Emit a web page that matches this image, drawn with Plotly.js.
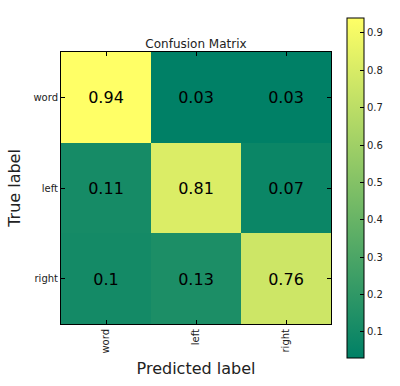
<!DOCTYPE html>
<html><head><meta charset="utf-8">
<script src="https://cdn.plot.ly/plotly-3.0.1.min.js"></script>
<style>body{margin:0;background:#fff}#chart{width:400px;height:386px}</style>
</head><body><div id="chart"></div>
<script>
const trueLabels = ["word", "left", "right"];
const predLabels = ["word", "left", "right"];
const rowWord  = [0.94, 0.03, 0.03];
const rowLeft  = [0.11, 0.81, 0.07];
const rowRight = [0.10, 0.13, 0.76];
const colorTicks = [0.1, 0.2, 0.3, 0.4, 0.5, 0.6, 0.7, 0.8, 0.9];

const summer = [[0, "rgb(0,128,102)"], [1, "rgb(255,255,102)"]];
const font = "DejaVu Sans, sans-serif";

const trace = {
  type: "heatmap",
  x: predLabels,
  y: trueLabels,
  z: [rowWord, rowLeft, rowRight],
  colorscale: summer,
  texttemplate: "%{z}",
  textfont: {family: font, size: 16, color: "#000"},
  hoverinfo: "none",
  colorbar: {
    x: 1.058, xanchor: "left", xpad: 0, ypad: 0,
    y: 0.5, yanchor: "middle",
    thickness: 17, thicknessmode: "pixels",
    len: 340, lenmode: "pixels",
    outlinewidth: 1, outlinecolor: "#000",
    tickvals: colorTicks, ticktext: colorTicks.map(String),
    ticks: "inside", ticklen: 4, tickcolor: "#000",
    tickfont: {family: font, size: 10, color: "#222"}
  }
};

const layout = {
  width: 400, height: 386,
  margin: {l: 61, r: 65, t: 52, b: 62},
  paper_bgcolor: "#fff", plot_bgcolor: "#fff",
  title: {text: "Confusion Matrix", font: {family: font, size: 12, color: "#222"}, x: 0.5, xref: "paper", y: 1, yref: "paper", yanchor: "bottom", pad: {b: 4}},
  xaxis: {
    title: {text: "Predicted label", font: {family: font, size: 16, color: "#222"}, standoff: 10},
    tickangle: -90, tickfont: {family: font, size: 10, color: "#222"},
    ticks: "inside", ticklen: 4, tickcolor: "#000",
    showline: true, linecolor: "#000", linewidth: 1, mirror: "allticks",
    showgrid: false, zeroline: false
  },
  yaxis: {
    title: {text: "True label", font: {family: font, size: 16, color: "#222"}, standoff: 8},
    autorange: "reversed",
    tickfont: {family: font, size: 10, color: "#222"},
    ticks: "inside", ticklen: 4, tickcolor: "#000",
    showline: true, linecolor: "#000", linewidth: 1, mirror: "allticks",
    showgrid: false, zeroline: false
  }
};

Plotly.newPlot("chart", [trace], layout, {displayModeBar: false, staticPlot: true});
</script></body></html>
